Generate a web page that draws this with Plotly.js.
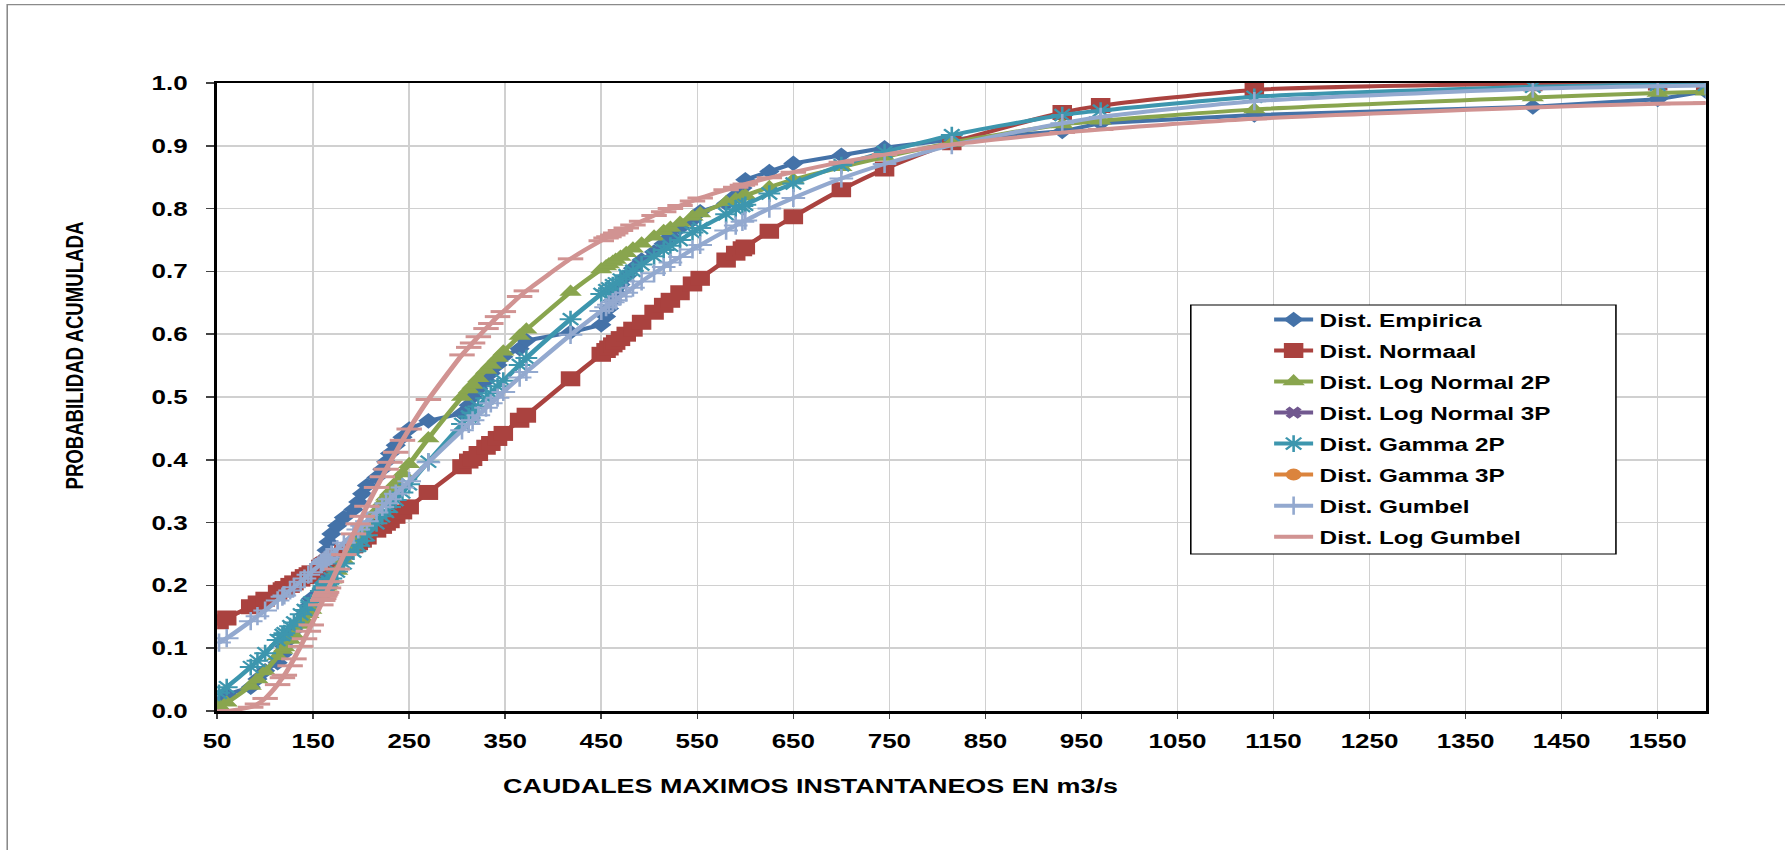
<!DOCTYPE html>
<html>
<head>
<meta charset="utf-8">
<script src="https://cdn.plot.ly/plotly-3.0.1.min.js"></script>
<style>
  html, body { margin: 0; padding: 0; background: #ffffff; overflow: hidden; }
  /* the chart is laid out narrow and widened horizontally, giving the broad lettering and wide markers */
  #chart { width: 1373px; height: 850px; transform: scaleX(1.30008); transform-origin: 0 0; }
</style>
</head>
<body>
<div id="chart"></div>
<script>
// Caudales maximos instantaneos (m3/s), ordenados
const caudales = [52, 60, 85, 92, 100, 113, 118, 120, 126, 130, 137, 141, 145, 148, 158, 160, 161, 162, 163, 164,
  166, 169, 175, 182, 192, 197, 201, 206, 216, 222, 226, 230, 236, 243, 250, 270, 305, 312, 316, 322,
  330, 335, 342, 348, 365, 372, 418, 450, 455, 458, 462, 465, 470, 476, 483, 492, 505, 515, 522, 532,
  545, 553, 580, 590, 597, 600, 625, 650, 700, 745, 815, 930, 970, 1130, 1420, 1550, 1600];

// Probabilidad acumulada de cada distribucion
const pEmpirica = [0.013, 0.026, 0.038, 0.051, 0.064, 0.077, 0.090, 0.103, 0.115, 0.128, 0.141, 0.154, 0.167, 0.179, 0.192, 0.205, 0.218, 0.231, 0.244, 0.256,
  0.269, 0.282, 0.295, 0.308, 0.321, 0.333, 0.346, 0.359, 0.372, 0.385, 0.397, 0.410, 0.423, 0.436, 0.449, 0.462, 0.474, 0.487, 0.500, 0.513,
  0.526, 0.538, 0.551, 0.564, 0.577, 0.590, 0.603, 0.615, 0.628, 0.641, 0.654, 0.667, 0.679, 0.692, 0.705, 0.718, 0.731, 0.744, 0.756, 0.769,
  0.782, 0.795, 0.808, 0.821, 0.833, 0.846, 0.859, 0.872, 0.885, 0.897, 0.910, 0.923, 0.936, 0.949, 0.962, 0.974, 0.987];

const pNormal = [0.142, 0.148, 0.166, 0.172, 0.178, 0.189, 0.193, 0.195, 0.200, 0.204, 0.210, 0.214, 0.217, 0.220, 0.229, 0.231, 0.232, 0.233, 0.234, 0.235,
  0.237, 0.240, 0.246, 0.253, 0.263, 0.268, 0.272, 0.277, 0.288, 0.294, 0.299, 0.303, 0.310, 0.317, 0.325, 0.348, 0.389, 0.398, 0.402, 0.410,
  0.420, 0.426, 0.434, 0.442, 0.463, 0.471, 0.529, 0.568, 0.574, 0.578, 0.583, 0.587, 0.593, 0.600, 0.608, 0.619, 0.635, 0.646, 0.654, 0.666,
  0.680, 0.689, 0.718, 0.729, 0.736, 0.739, 0.764, 0.787, 0.830, 0.863, 0.905, 0.953, 0.964, 0.989, 0.999, 1.000, 1.000];

const pLogNormal2P = [0.008, 0.013, 0.040, 0.050, 0.063, 0.087, 0.097, 0.101, 0.113, 0.121, 0.137, 0.145, 0.154, 0.161, 0.184, 0.188, 0.191, 0.193, 0.195, 0.198,
  0.202, 0.209, 0.223, 0.240, 0.263, 0.275, 0.284, 0.295, 0.318, 0.332, 0.341, 0.349, 0.363, 0.378, 0.393, 0.434, 0.500, 0.512, 0.519, 0.530,
  0.543, 0.551, 0.562, 0.572, 0.597, 0.607, 0.667, 0.703, 0.708, 0.711, 0.715, 0.718, 0.723, 0.729, 0.736, 0.744, 0.755, 0.764, 0.769, 0.777,
  0.787, 0.792, 0.810, 0.815, 0.819, 0.821, 0.834, 0.846, 0.866, 0.882, 0.905, 0.934, 0.940, 0.958, 0.977, 0.984, 0.986];

// Series listed in the legend without plotted values
const pLogNormal3P = [];

const pGamma2P = [0.029, 0.038, 0.070, 0.080, 0.092, 0.113, 0.121, 0.124, 0.135, 0.141, 0.154, 0.161, 0.168, 0.173, 0.191, 0.195, 0.197, 0.198, 0.200, 0.202,
  0.206, 0.211, 0.222, 0.235, 0.254, 0.263, 0.271, 0.280, 0.299, 0.310, 0.317, 0.325, 0.336, 0.348, 0.361, 0.397, 0.457, 0.469, 0.475, 0.485,
  0.498, 0.506, 0.517, 0.526, 0.551, 0.562, 0.624, 0.664, 0.670, 0.673, 0.678, 0.681, 0.687, 0.694, 0.701, 0.711, 0.724, 0.734, 0.741, 0.750,
  0.762, 0.769, 0.791, 0.799, 0.804, 0.806, 0.824, 0.840, 0.869, 0.890, 0.917, 0.949, 0.956, 0.978, 0.994, 0.997, 0.997];

const pGamma3P = [];

const pGumbel = [0.109, 0.116, 0.143, 0.151, 0.160, 0.176, 0.182, 0.184, 0.192, 0.197, 0.206, 0.211, 0.217, 0.221, 0.234, 0.237, 0.238, 0.240, 0.241, 0.242,
  0.245, 0.249, 0.258, 0.268, 0.282, 0.289, 0.295, 0.302, 0.316, 0.325, 0.331, 0.337, 0.346, 0.356, 0.366, 0.396, 0.447, 0.457, 0.463, 0.471,
  0.483, 0.490, 0.499, 0.508, 0.531, 0.540, 0.599, 0.637, 0.643, 0.647, 0.651, 0.654, 0.660, 0.666, 0.674, 0.684, 0.697, 0.707, 0.714, 0.723,
  0.735, 0.742, 0.765, 0.773, 0.779, 0.781, 0.800, 0.817, 0.848, 0.871, 0.901, 0.936, 0.946, 0.971, 0.991, 0.995, 0.996];

const pLogGumbel = [0.000, 0.000, 0.006, 0.011, 0.020, 0.042, 0.053, 0.057, 0.072, 0.083, 0.103, 0.115, 0.127, 0.137, 0.169, 0.176, 0.179, 0.183, 0.186, 0.189,
  0.196, 0.206, 0.226, 0.249, 0.282, 0.298, 0.310, 0.326, 0.356, 0.373, 0.385, 0.396, 0.412, 0.431, 0.449, 0.496, 0.567, 0.579, 0.586, 0.596,
  0.609, 0.617, 0.628, 0.636, 0.660, 0.669, 0.720, 0.749, 0.753, 0.755, 0.758, 0.761, 0.765, 0.769, 0.774, 0.780, 0.789, 0.795, 0.800, 0.805,
  0.812, 0.817, 0.830, 0.834, 0.837, 0.839, 0.849, 0.858, 0.874, 0.886, 0.902, 0.921, 0.926, 0.943, 0.961, 0.967, 0.968];

const serieNombres = ['Dist. Empirica', 'Dist. Normaal', 'Dist. Log Normal 2P', 'Dist. Log Normal 3P',
  'Dist. Gamma 2P', 'Dist. Gamma 3P', 'Dist. Gumbel', 'Dist. Log Gumbel'];

const tituloX = 'CAUDALES MAXIMOS INSTANTANEOS EN m3/s';
const tituloY = 'PROBABILIDAD ACUMULADA';

const FONT = 'Liberation Sans, Arial, Helvetica, sans-serif';

function serie(idx, y, color, marker, lineShape) {
  // a series with no values still keeps its legend entry
  const vacia = y.length === 0;
  return {
    type: 'scatter',
    mode: 'lines+markers',
    name: serieNombres[idx],
    legendgroup: 'g' + idx,
    x: vacia ? [null] : caudales,
    y: vacia ? [null] : y,
    line: { color: color, width: 4, shape: lineShape || 'spline', smoothing: 0.6 },
    marker: Object.assign({ color: color }, marker),
    cliponaxis: true
  };
}

const traces = [
  serie(0, pEmpirica, '#4472A8', { symbol: 'diamond', size: 12 }, 'linear'),
  serie(1, pNormal, '#AA423F', { symbol: 'square', size: 15 }),
  serie(2, pLogNormal2P, '#89A54E', { symbol: 'triangle-up', size: 15 }),
  serie(3, pLogNormal3P, '#71588F', { symbol: 'x', size: 11 }),
  serie(4, pGamma2P, '#3D96AE', { symbol: 'asterisk-open', size: 14, line: { color: '#3D96AE', width: 2 } }),
  serie(5, pGamma3P, '#DB843D', { symbol: 'circle', size: 12 }),
  serie(6, pGumbel, '#93A9CF', { symbol: 'cross-thin-open', size: 13, line: { color: '#93A9CF', width: 2 } }),
  serie(7, pLogGumbel, '#D19392', { symbol: 'line-ew-open', size: 14, line: { color: '#D19392', width: 3 } })
];

const layout = {
  width: 1373,
  height: 850,
  paper_bgcolor: '#ffffff',
  plot_bgcolor: '#ffffff',
  margin: { l: 167, r: 61, t: 83, b: 139 },
  showlegend: true,
  font: { family: FONT, color: '#000000' },
  xaxis: {
    range: [50, 1600],
    tick0: 50,
    dtick: 100,
    showgrid: true,
    gridcolor: '#d0d0d0',
    gridwidth: 1.2,
    zeroline: false,
    showline: true,
    linecolor: '#000000',
    linewidth: 2.5,
    mirror: true,
    ticks: 'outside',
    ticklen: 5,
    tickwidth: 1.2,
    tickcolor: '#444444',
    ticklabelstandoff: 6,
    tickfont: { family: FONT, size: 20, color: '#000000', weight: 'bold' }
  },
  yaxis: {
    range: [0, 1],
    tick0: 0,
    dtick: 0.1,
    tickformat: '.1f',
    showgrid: true,
    gridcolor: '#d0d0d0',
    gridwidth: 1.5,
    zeroline: false,
    showline: true,
    linecolor: '#000000',
    linewidth: 2.2,
    mirror: true,
    ticks: 'outside',
    ticklen: 6.5,
    tickwidth: 1.5,
    tickcolor: '#444444',
    ticklabelstandoff: 10,
    tickfont: { family: FONT, size: 20, color: '#000000', weight: 'bold' }
  },
  legend: {
    x: 0.7057,
    xanchor: 'left',
    y: 0.653,
    yanchor: 'top',
    bgcolor: 'rgba(0,0,0,0)',
    borderwidth: 0,
    traceorder: 'grouped',
    tracegroupgap: 3.7,
    font: { family: FONT, size: 18.7, color: '#000000', weight: 'bold' }
  },
  shapes: [
    // frame around the whole chart
    { type: 'rect', xref: 'paper', yref: 'paper', x0: -0.141, x1: 1.1, y0: -0.3, y1: 1.1247,
      line: { color: '#8a8a8a', width: 1.2 }, fillcolor: 'rgba(0,0,0,0)', layer: 'above' },
    // legend box
    { type: 'rect', xref: 'paper', yref: 'paper', x0: 0.6541, x1: 0.9397, y0: 0.25, y1: 0.6465,
      line: { color: '#000000', width: 1.2 }, fillcolor: '#ffffff', layer: 'above' }
  ],
  annotations: [
    { text: tituloX, xref: 'paper', yref: 'paper', x: 0.399, y: -0.1194, xanchor: 'center', yanchor: 'middle',
      showarrow: false, font: { family: FONT, size: 20.7, color: '#000000', weight: 'bold' } },
    { text: tituloY, xref: 'paper', yref: 'paper', x: -0.0956, y: 0.5653, xanchor: 'center', yanchor: 'middle',
      textangle: -90, showarrow: false, font: { family: FONT, size: 18.6, color: '#000000', weight: 'bold' } }
  ]
};

Plotly.newPlot('chart', traces, layout, { displayModeBar: false, staticPlot: true });
</script>
</body>
</html>
